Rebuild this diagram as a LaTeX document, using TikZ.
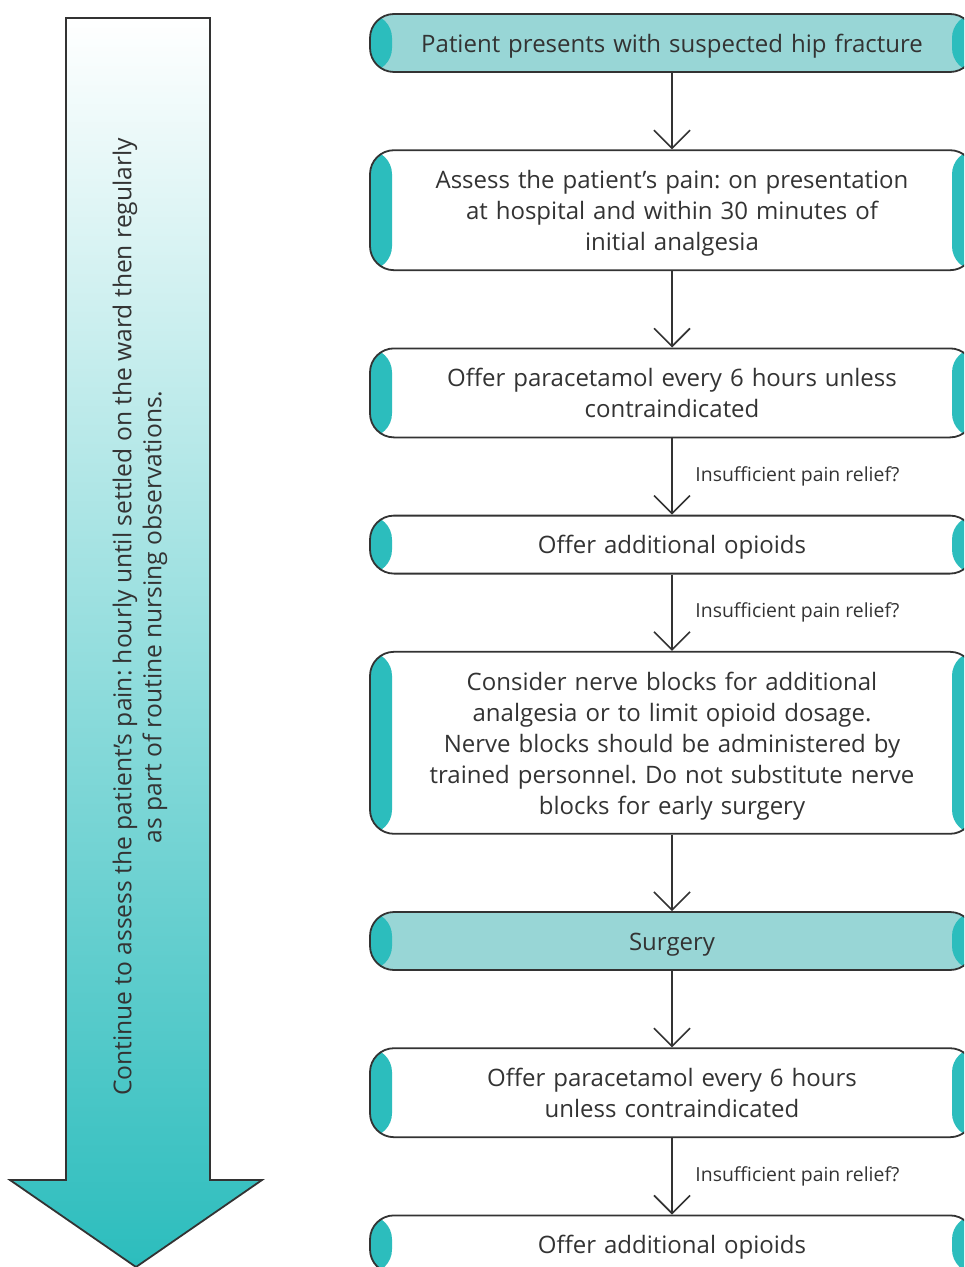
\documentclass[tikz,border=0pt]{standalone}
\usepackage{fontspec}
\setmainfont{Open Sans}
\usetikzlibrary{positioning,arrows.meta}
\definecolor{stripteal}{HTML}{2CBDBD}
\definecolor{paleteal}{HTML}{98D6D6}
\definecolor{inkgrey}{HTML}{333333}
\frenchspacing
\newcommand{\boxstrut}{\rule[-3.1pt]{0pt}{15.5pt}}

\begin{document}
\begin{tikzpicture}[x=0.5pt,y=-0.5pt,node distance=38.2pt,
  stepbox/.style={draw=inkgrey,line width=0.9pt,rounded corners=12pt,fill=white,
    minimum width=302pt,text width=280pt,align=center,inner ysep=6.75pt,
    font=\fontsize{12}{15.5}\selectfont,text=inkgrey,
    execute at begin node=\boxstrut,execute at end node=\boxstrut,
    path picture={
      \fill[stripteal] (path picture bounding box.south west) rectangle ([xshift=11pt]path picture bounding box.north west);
      \fill[stripteal] (path picture bounding box.south east) rectangle ([xshift=-11pt]path picture bounding box.north east);}},
  keybox/.style={stepbox,fill=paleteal},
  flow/.style={draw=inkgrey,line width=0.8pt,-{Straight Barb[length=9pt,width=18pt]}},
  query/.style={font=\fontsize{9.7}{11}\selectfont,text=inkgrey,right=8pt}]
        \useasboundingbox (0,0) rectangle (964,1267);
        \clip (0,0) rectangle (964,1267);

        % side arrow
        \draw[draw=inkgrey,line width=0.9pt,top color=white,bottom color=stripteal]
            (66,18) -- (210,18) -- (210,1180) -- (262,1180) -- (136,1267)
            -- (10,1180) -- (66,1180) -- cycle;
        \node[rotate=90,align=center,text=inkgrey,font=\fontsize{12.3}{15}\selectfont] (note) at (140,617)
            {Continue to assess the patient's pain: hourly until settled on the ward then regularly\\
             as part of routine nursing observations.};

        % steps
        \node[keybox] (a) at (672,43) {Patient presents with suspected hip fracture};
        \node[stepbox] (b) [below=of a] {Assess the patient's pain: on presentation\\ at hospital and within 30 minutes of\\ initial analgesia};
        \node[stepbox] (c) [below=of b] {Offer paracetamol every 6 hours unless\\ contraindicated};
        \node[stepbox] (d) [below=of c] {Offer additional opioids};
        \node[stepbox] (e) [below=of d] {Consider nerve blocks for additional\\ analgesia or to limit opioid dosage.\\ Nerve blocks should be administered by\\ trained personnel. Do not substitute nerve\\ blocks for early surgery};
        \node[keybox] (f) [below=of e] {Surgery};
        \node[stepbox] (g) [below=of f] {Offer paracetamol every 6 hours\\ unless contraindicated};
        \node[stepbox] (h) [below=of g] {Offer additional opioids};

        \draw[flow] (a) -- (b);
        \draw[flow] (b) -- (c);
        \draw[flow] (c) -- node[query] (q1) {Insufficient pain relief?} (d);
        \draw[flow] (d) -- node[query] (q2) {Insufficient pain relief?} (e);
        \draw[flow] (e) -- (f);
        \draw[flow] (f) -- (g);
        \draw[flow] (g) -- node[query] (q3) {Insufficient pain relief?} (h);
    \end{tikzpicture}
\end{document}
